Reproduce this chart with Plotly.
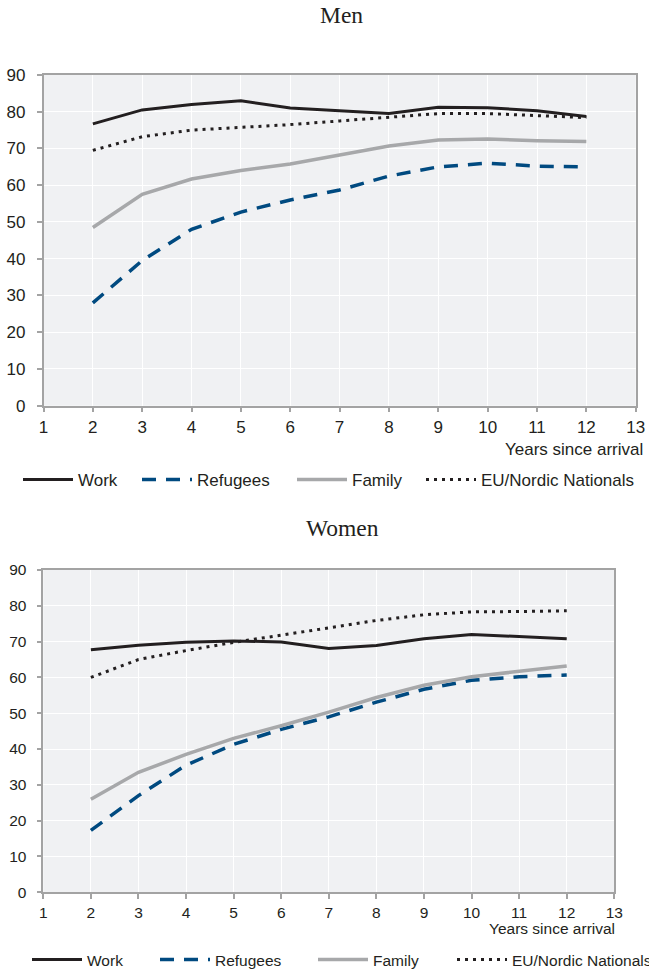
import plotly.graph_objects as go

years = [2, 3, 4, 5, 6, 7, 8, 9, 10, 11, 12]
x_ticks = list(range(1, 14))
y_ticks = list(range(0, 100, 10))

series_names = ["Work", "Refugees", "Family", "EU/Nordic Nationals"]

men_work = [76.7, 80.5, 82.0, 83.0, 81.0, 80.3, 79.5, 81.2, 81.1, 80.3, 78.7]
men_refugees = [28.0, 39.5, 48.0, 52.7, 56.0, 58.7, 62.5, 65.0, 66.0, 65.2, 65.0]
men_family = [48.5, 57.5, 61.7, 64.0, 65.8, 68.2, 70.7, 72.3, 72.6, 72.1, 71.9]
men_eu = [69.5, 73.2, 75.0, 75.7, 76.5, 77.5, 78.5, 79.5, 79.5, 79.0, 78.4]

women_work = [67.7, 69.0, 69.8, 70.2, 69.9, 68.1, 68.9, 70.8, 72.0, 71.3, 70.8]
women_refugees = [17.3, 27.0, 35.5, 41.3, 45.5, 49.0, 53.1, 56.7, 59.2, 60.2, 60.7]
women_family = [26.0, 33.5, 38.5, 43.0, 46.5, 50.3, 54.4, 57.8, 60.2, 61.7, 63.2]
women_eu = [60.0, 65.0, 67.5, 69.8, 71.8, 73.8, 75.9, 77.5, 78.3, 78.4, 78.6]

men = [men_work, men_refugees, men_family, men_eu]
women = [women_work, women_refugees, women_family, women_eu]

colors = ["#231f20", "#004a80", "#a7a8aa", "#231f20"]
dashes = ["solid", "14px,10px", "solid", "3px,5px"]
widths = [3, 3.5, 3.5, 3]

TXT = "#231f20"
AXC = "#a3a3a3"
BG = "#f0f1f3"
W, H = 649, 969

fig = go.Figure()

# legend text start positions (px) per panel
leg_text_x_top = [78, 197, 352, 481]
leg_text_x_bot = [87, 215, 373, 512]
ITEMW = 50
OFFSET = 60

for i, name in enumerate(series_names):
    fig.add_trace(go.Scatter(
        x=years, y=men[i], mode="lines", name=name,
        line=dict(color=colors[i], width=widths[i], dash=dashes[i]),
        xaxis="x", yaxis="y", legend="legend" if i == 0 else f"legend{i+1}",
    ))
for i, name in enumerate(series_names):
    fig.add_trace(go.Scatter(
        x=years, y=women[i], mode="lines", name=name,
        line=dict(color=colors[i], width=widths[i], dash=dashes[i]),
        xaxis="x2", yaxis="y2", legend=f"legend{i+5}",
    ))

def axis_common(fs):
    return dict(
        showline=True, linecolor=AXC, linewidth=1.5, mirror=True,
        showgrid=True, gridcolor="white", gridwidth=1.2,
        ticks="outside", ticklen=5, tickcolor=AXC, tickwidth=1.5,
        tickfont=dict(family="Liberation Sans, Arial", size=fs, color=TXT),
        zeroline=False, fixedrange=True, automargin=False,
    )

fig.update_layout(
    width=W, height=H,
    margin=dict(l=0, r=0, t=0, b=0, autoexpand=False),
    paper_bgcolor="white", plot_bgcolor=BG,
    font=dict(family="Liberation Sans, Arial", color=TXT),
    xaxis=dict(domain=[43.5 / W, 635.7 / W], range=[1, 13], tickvals=x_ticks,
               anchor="y", ticklabelstandoff=0, **axis_common(17)),
    yaxis=dict(domain=[1 - 405.7 / H, 1 - 75 / H], range=[0, 90], tickvals=y_ticks,
               anchor="x", ticklabelstandoff=8, **axis_common(17)),
    xaxis2=dict(domain=[43.3 / W, 614.3 / W], range=[1, 13], tickvals=x_ticks,
                anchor="y2", ticklabelstandoff=0, **axis_common(15.5)),
    yaxis2=dict(domain=[1 - 892.3 / H, 1 - 570 / H], range=[0, 90], tickvals=y_ticks,
                anchor="x2", ticklabelstandoff=7, **axis_common(15.5)),
    showlegend=True,
)

legends = {}
for i in range(4):
    key = "legend" if i == 0 else f"legend{i+1}"
    legends[key] = dict(
        x=(leg_text_x_top[i] - OFFSET) / W, y=1 - 480 / H,
        xanchor="left", yanchor="middle", orientation="h",
        itemwidth=ITEMW, bgcolor="rgba(0,0,0,0)",
        font=dict(family="Liberation Sans, Arial", size=17, color=TXT),
    )
    legends[f"legend{i+5}"] = dict(
        x=(leg_text_x_bot[i] - OFFSET) / W, y=1 - 960 / H,
        xanchor="left", yanchor="middle", orientation="h",
        itemwidth=ITEMW, bgcolor="rgba(0,0,0,0)",
        font=dict(family="Liberation Sans, Arial", size=15.5, color=TXT),
    )
fig.update_layout(**legends)

fig.add_annotation(text="Men", x=341.5 / W, y=1 - 15 / H, xref="paper", yref="paper",
                   showarrow=False, xanchor="center", yanchor="middle",
                   font=dict(family="Liberation Serif, Times New Roman", size=23.5, color=TXT))
fig.add_annotation(text="Women", x=342 / W, y=1 - 528 / H, xref="paper", yref="paper",
                   showarrow=False, xanchor="center", yanchor="middle",
                   font=dict(family="Liberation Serif, Times New Roman", size=23.5, color=TXT))
fig.add_annotation(text="Years since arrival", x=645 / W, y=1 - 449 / H, xref="paper", yref="paper",
                   showarrow=False, xanchor="right", yanchor="middle",
                   font=dict(family="Liberation Sans, Arial", size=17, color=TXT))
fig.add_annotation(text="Years since arrival", x=617 / W, y=1 - 928 / H, xref="paper", yref="paper",
                   showarrow=False, xanchor="right", yanchor="middle",
                   font=dict(family="Liberation Sans, Arial", size=15.5, color=TXT))

fig.write_html(
    "out.html",
    config={"displayModeBar": False},
    post_script="document.body.style.margin='0';document.body.style.overflow='hidden';",
)
